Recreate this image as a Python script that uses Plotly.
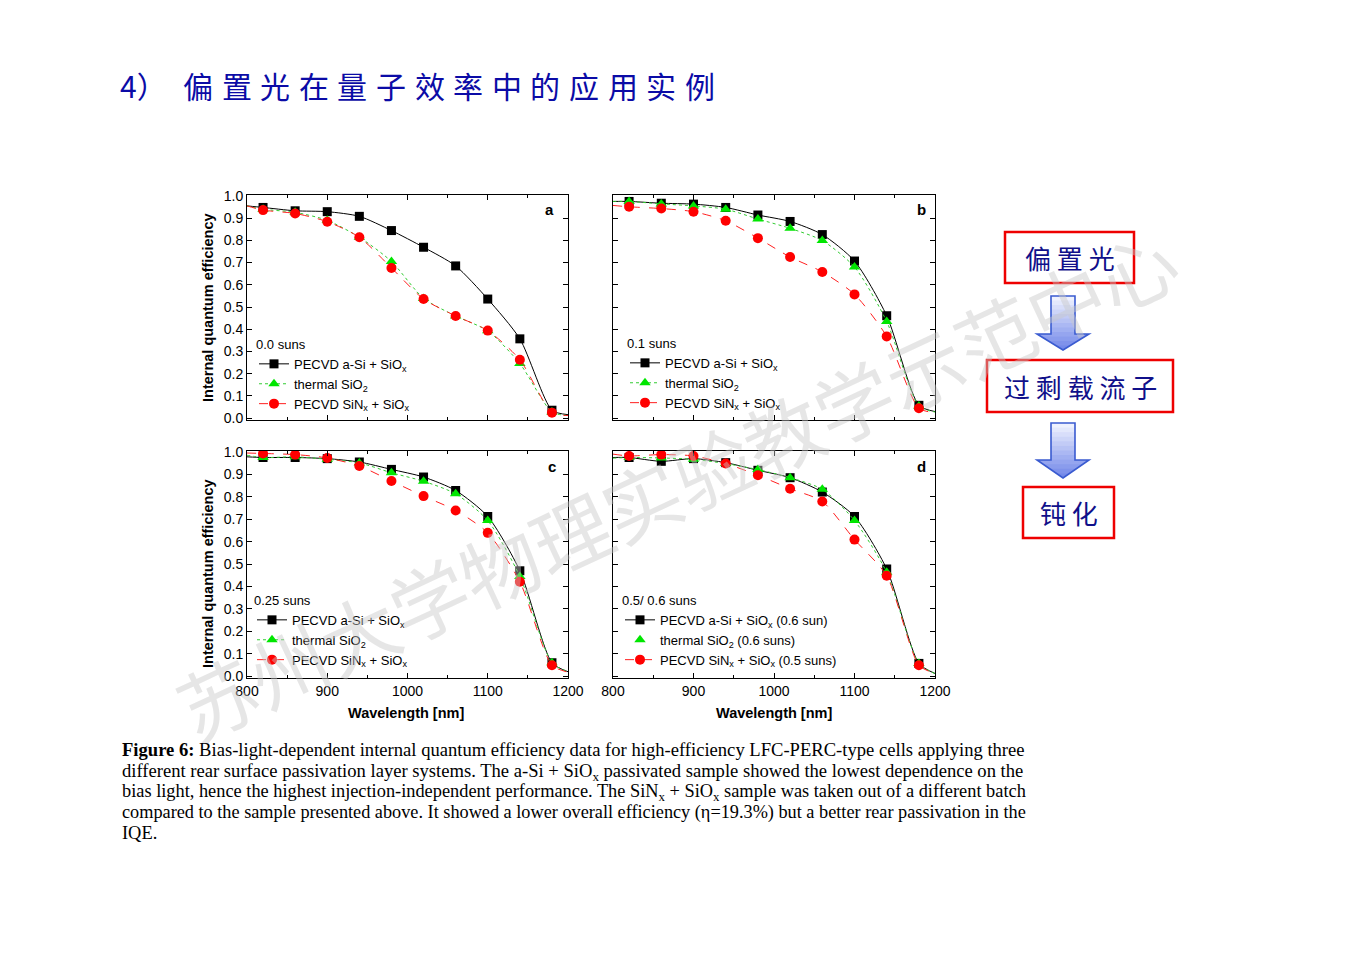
import plotly.graph_objects as go

# page is 1357x959; the browser body keeps an 8 px margin, so the figure is 16 px smaller
OFF = 8
W, H = 1357 - 2 * OFF, 959 - 2 * OFF

# ---------------- data ----------------
wavelength = [820, 860, 900, 940, 980, 1020, 1060, 1100, 1140, 1180]
edge_wl = [800, 1200]

# panel a : 0.0 suns
a_asi = [0.948, 0.933, 0.929, 0.908, 0.844, 0.769, 0.685, 0.536, 0.357, 0.036]
a_th = [0.940, 0.926, 0.890, 0.814, 0.705, 0.539, 0.460, 0.393, 0.246, 0.028]
a_sin = [0.936, 0.921, 0.884, 0.814, 0.676, 0.536, 0.460, 0.394, 0.263, 0.025]
a_asi_edge = [0.955, 0.016]
a_th_edge = [0.955, 0.012]
a_sin_edge = [0.955, 0.012]

# panel b : 0.1 suns
b_asi = [0.975, 0.967, 0.963, 0.948, 0.914, 0.885, 0.826, 0.707, 0.461, 0.058]
b_th = [0.975, 0.964, 0.955, 0.940, 0.896, 0.854, 0.799, 0.680, 0.435, 0.055]
b_sin = [0.951, 0.943, 0.929, 0.888, 0.810, 0.725, 0.658, 0.557, 0.368, 0.045]
b_asi_edge = [0.975, 0.030]
b_th_edge = [0.975, 0.028]
b_sin_edge = [0.957, 0.025]

# panel c : 0.25 suns
c_asi = [0.975, 0.975, 0.970, 0.955, 0.922, 0.888, 0.828, 0.712, 0.470, 0.060]
c_th = [0.975, 0.978, 0.967, 0.951, 0.907, 0.869, 0.813, 0.694, 0.445, 0.060]
c_sin = [0.993, 0.988, 0.973, 0.937, 0.870, 0.803, 0.739, 0.639, 0.421, 0.049]
c_asi_edge = [0.978, 0.020]
c_th_edge = [0.985, 0.020]
c_sin_edge = [0.995, 0.018]

# panel d : 0.5 / 0.6 suns
d_asi = [0.975, 0.958, 0.970, 0.952, 0.918, 0.885, 0.821, 0.712, 0.478, 0.057]
d_th = [0.975, 0.973, 0.967, 0.948, 0.921, 0.885, 0.833, 0.694, 0.463, 0.057]
d_sin = [0.982, 0.988, 0.982, 0.948, 0.896, 0.836, 0.779, 0.609, 0.448, 0.049]
d_asi_edge = [0.975, 0.012]
d_th_edge = [0.972, 0.012]
d_sin_edge = [0.990, 0.012]

panel_letters = ["a", "b", "c", "d"]
panel_suns = ["0.0 suns", "0.1 suns", "0.25 suns", "0.5/ 0.6 suns"]
legend_names = [
    ["PECVD a-Si + SiO<sub>x</sub>", "thermal SiO<sub>2</sub>", "PECVD SiN<sub>x</sub> + SiO<sub>x</sub>"],
    ["PECVD a-Si + SiO<sub>x</sub>", "thermal SiO<sub>2</sub>", "PECVD SiN<sub>x</sub> + SiO<sub>x</sub>"],
    ["PECVD a-Si + SiO<sub>x</sub>", "thermal SiO<sub>2</sub>", "PECVD SiN<sub>x</sub> + SiO<sub>x</sub>"],
    ["PECVD a-Si + SiO<sub>x</sub> (0.6 sun)", "thermal SiO<sub>2</sub> (0.6 suns)",
     "PECVD SiN<sub>x</sub> + SiO<sub>x</sub> (0.5 suns)"],
]
x_ticks = [800, 900, 1000, 1100, 1200]

title_prefix = "4）"
title_chars = list("偏置光在量子效率中的应用实例")
flow_texts = ["偏 置 光", "过 剩 载 流 子", "钝 化"]
watermark = "苏州大学物理实验教学示范中心"
caption_lines = [
    "<b>Figure 6:</b> Bias-light-dependent internal quantum efficiency data for high-efficiency LFC-PERC-type cells applying three",
    "different rear surface passivation layer systems. The a-Si + SiO<sub>x</sub> passivated sample showed the lowest dependence on the",
    "bias light, hence the highest injection-independent performance. The SiN<sub>x</sub> + SiO<sub>x</sub> sample was taken out of a different batch",
    "compared to the sample presented above. It showed a lower overall efficiency (η=19.3%) but a better rear passivation in the",
    "IQE.",
]
# the caption is justified in the original: each line is sized to the same width
caption_sizes = [18.6, 18.6, 18.35, 18.25, 18.4]

series = [
    [(a_asi, a_asi_edge), (a_th, a_th_edge), (a_sin, a_sin_edge)],
    [(b_asi, b_asi_edge), (b_th, b_th_edge), (b_sin, b_sin_edge)],
    [(c_asi, c_asi_edge), (c_th, c_th_edge), (c_sin, c_sin_edge)],
    [(d_asi, d_asi_edge), (d_th, d_th_edge), (d_sin, d_sin_edge)],
]

# ---------------- styles ----------------
styles = [
    dict(color="#000000", dash="solid", symbol="square", size=9, lcolor="#000000"),
    dict(color="#00E600", dash="dot", symbol="triangle-up", size=10, lcolor="#33CC33"),
    dict(color="#FF0000", dash="dash", symbol="circle", size=10, lcolor="#FF2020"),
]

def px(x):
    return (x - OFF) / W

def py(y):
    return 1 - (y - OFF) / H

# panel frames in page pixels: (left, right, top, bottom)
frames = [(247, 568, 195, 420), (613, 935, 195, 420), (247, 568, 451, 678), (613, 935, 451, 678)]
legend_pos = [(254, 332), (625, 331), (252, 588), (620, 588)]
letter_pos = [(549, 209), (921, 209), (552, 467), (921, 467)]

SANS = "Liberation Sans, Arial, sans-serif"
CJK = "Noto Sans CJK SC"

fig = go.Figure()

for i in range(4):
    xa = "x" if i == 0 else f"x{i+1}"
    ya = "y" if i == 0 else f"y{i+1}"
    leg = "legend" if i == 0 else f"legend{i+1}"
    for j, (vals, edge) in enumerate(series[i]):
        st = styles[j]
        xs = [edge_wl[0]] + wavelength + [edge_wl[1]]
        ys = [edge[0]] + vals + [edge[1]]
        fig.add_trace(go.Scatter(
            x=xs, y=ys, mode="lines", xaxis=xa, yaxis=ya, showlegend=False,
            line=dict(color=st["lcolor"], width=1, dash=st["dash"], shape="spline", smoothing=0.7),
            hoverinfo="skip"))
        fig.add_trace(go.Scatter(
            x=wavelength, y=vals, mode="markers", xaxis=xa, yaxis=ya, showlegend=False,
            marker=dict(color=st["color"], symbol=st["symbol"], size=st["size"], line=dict(width=0))))
        legend_mode = "markers" if (i == 3 and j == 1) else "lines+markers"
        fig.add_trace(go.Scatter(
            x=[None], y=[None], mode=legend_mode, xaxis=xa, yaxis=ya,
            name=legend_names[i][j], legend=leg,
            line=dict(color=st["lcolor"], width=1, dash=st["dash"]),
            marker=dict(color=st["color"], symbol=st["symbol"], size=st["size"], line=dict(width=0))))

layout = dict(
    width=W, height=H, margin=dict(l=0, r=0, t=0, b=0, autoexpand=False),
    paper_bgcolor="white", plot_bgcolor="white",
    showlegend=True,
)

for i in range(4):
    l, r, t, b = frames[i]
    xk = "xaxis" if i == 0 else f"xaxis{i+1}"
    yk = "yaxis" if i == 0 else f"yaxis{i+1}"
    xa = "x" if i == 0 else f"x{i+1}"
    ya = "y" if i == 0 else f"y{i+1}"
    layout[xk] = dict(
        domain=[px(l), px(r)], anchor=ya, range=[800, 1200],
        tickvals=x_ticks, showticklabels=(i >= 2),
        ticks="inside", ticklen=5, tickcolor="black", mirror="ticks",
        showline=True, linecolor="black", linewidth=1, showgrid=False, zeroline=False,
        tickfont=dict(family=SANS, size=14, color="black"),
        minor=dict(dtick=50, tick0=800, ticks="inside", ticklen=3, tickcolor="black", showgrid=False),
    )
    layout[yk] = dict(
        domain=[py(b), py(t)], anchor=xa, range=[-0.008, 1.004],
        dtick=0.1, tick0=0, tickformat=".1f", showticklabels=(i % 2 == 0),
        ticks="inside", ticklen=5, tickcolor="black", mirror="ticks",
        showline=True, linecolor="black", linewidth=1, showgrid=False, zeroline=False,
        tickfont=dict(family=SANS, size=14, color="black"),
    )
    lk = "legend" if i == 0 else f"legend{i+1}"
    lx, ly = legend_pos[i]
    layout[lk] = dict(
        x=px(lx), y=py(ly), xanchor="left", yanchor="top",
        bgcolor="rgba(0,0,0,0)", borderwidth=0,
        font=dict(family=SANS, size=13, color="black"),
        title=dict(text=panel_suns[i], font=dict(family=SANS, size=13, color="black")),
        tracegroupgap=0, itemwidth=30,
    )

fig.update_layout(**layout)

ann = []

def note(x, y, text, font, xanchor="center", yanchor="middle", **kw):
    ann.append(dict(x=px(x), y=py(y), xref="paper", yref="paper", text=text, showarrow=False,
                    xanchor=xanchor, yanchor=yanchor, font=font, **kw))

# watermark
note(676, 482, watermark, dict(family=CJK, size=78, color="rgba(200,200,200,0.45)"), textangle=-25)

# panel letters
for i in range(4):
    lx, ly = letter_pos[i]
    note(lx, ly, f"<b>{panel_letters[i]}</b>", dict(family=SANS, size=15, color="black"))
# axis titles
for cy in (308, 574):
    note(208, cy, "<b>Internal quantum efficiency</b>", dict(family=SANS, size=14.5, color="black"),
         textangle=-90)
for cx in (406, 774):
    note(cx, 713, "<b>Wavelength [nm]</b>", dict(family=SANS, size=14.5, color="black"))

# slide title
TITLE_FONT = dict(family=CJK, size=30, color="#0B0BA6")
note(118, 85, title_prefix, TITLE_FONT, xanchor="left")
for k, ch in enumerate(title_chars):
    note(198 + 38.6 * k, 85, ch, TITLE_FONT)

# flowchart boxes
boxes = [(1005, 1134, 232, 283), (987, 1173, 360, 412), (1023, 1114, 487, 538)]
shapes = []
for (l, r, t, b), txt in zip(boxes, flow_texts):
    shapes.append(dict(type="rect", xref="paper", yref="paper", x0=px(l), x1=px(r), y0=py(b), y1=py(t),
                       line=dict(color="#EE0000", width=2.5), fillcolor="white", layer="above"))
    note((l + r) / 2, (t + b) / 2, txt, dict(family=CJK, size=26, color="#10108A"))

# arrows with a top-to-bottom gradient (stacked bands)
CX, SH, HH = 1063, 12, 26   # centre x, shaft half width, head half width


def arrow_upto(top, base, tip, cut):
    pts = [(CX - SH, top), (CX + SH, top)]
    if cut <= base:
        pts += [(CX + SH, cut), (CX - SH, cut)]
    else:
        hw = HH * (tip - cut) / (tip - base)
        pts += [(CX + SH, base), (CX + HH, base), (CX + hw, cut), (CX - hw, cut),
                (CX - HH, base), (CX - SH, base)]
    return "M " + " L ".join(f"{px(a):.5f},{py(c):.5f}" for a, c in pts) + " Z"


def mix(c0, c1, t):
    return "#" + "".join(f"{round(a + (b - a) * t):02X}" for a, b in zip(c0, c1))


TOPC, BOTC = (244, 246, 255), (110, 132, 232)
NB = 12
for top, base, tip in [(296, 334, 350), (423, 460, 478)]:
    for k in range(NB, 0, -1):
        cut = top + (tip - top) * k / NB
        shapes.append(dict(type="path", xref="paper", yref="paper", path=arrow_upto(top, base, tip, cut),
                           fillcolor=mix(TOPC, BOTC, (k - 0.5) / NB), line=dict(width=0), layer="above"))
    shapes.append(dict(type="path", xref="paper", yref="paper", path=arrow_upto(top, base, tip, tip),
                       fillcolor="rgba(0,0,0,0)", line=dict(color="#3A5BD0", width=1.6), layer="above"))

# caption
for k, line in enumerate(caption_lines):
    note(120, 737 + 21 * k, line,
         dict(family="Liberation Serif, Times New Roman, serif", size=caption_sizes[k], color="black"),
         xanchor="left", yanchor="top")

fig.update_layout(annotations=ann, shapes=shapes)

fig.write_html("out.html")
